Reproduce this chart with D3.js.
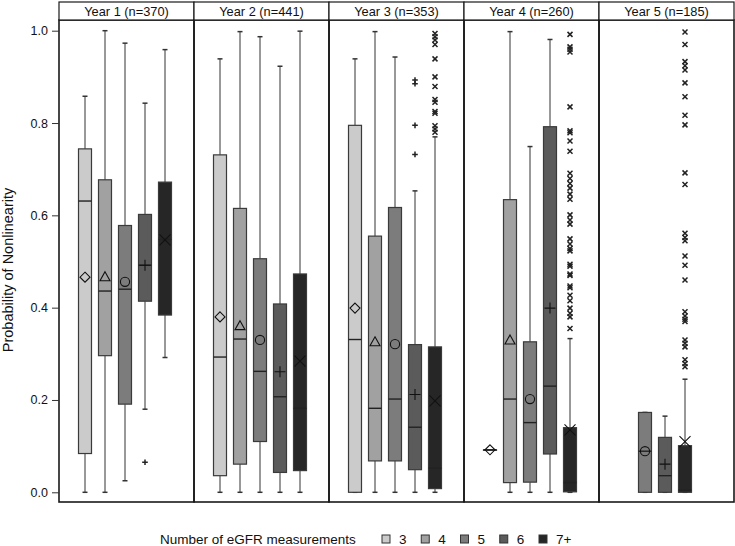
<!DOCTYPE html>
<html>
<head>
<meta charset="utf-8">
<script src="https://cdn.jsdelivr.net/npm/d3@7"></script>
<style>
  body { margin: 0; background: #fff; }
  text { font-family: "Liberation Sans", Arial, sans-serif; }
</style>
</head>
<body>
<svg id="chart" width="735" height="546"></svg>
<script>
// panels and groups
var years = ["Year 1 (n=370)", "Year 2 (n=441)", "Year 3 (n=353)", "Year 4 (n=260)", "Year 5 (n=185)"];
var groups = ["3", "4", "5", "6", "7+"];
var yTicks = [0, 0.2, 0.4, 0.6, 0.8, 1.0];

// group, low whisker, q1, median, q3, high whisker, mean
var year1 = [
	["3", 0.000, 0.084, 0.631, 0.744, 0.858, 0.466],
	["4", 0.000, 0.296, 0.436, 0.677, 1.000, 0.467],
	["5", 0.025, 0.191, 0.440, 0.578, 0.973, 0.456],
	["6", 0.180, 0.414, 0.492, 0.602, 0.843, 0.492],
	["7+", 0.292, 0.384, 0.548, 0.672, 0.959, 0.547]
];
var year2 = [
	["3", 0.000, 0.036, 0.293, 0.731, 0.939, 0.380],
	["4", 0.000, 0.061, 0.332, 0.615, 0.998, 0.361],
	["5", 0.000, 0.110, 0.262, 0.506, 0.987, 0.330],
	["6", 0.000, 0.043, 0.207, 0.408, 0.923, 0.261],
	["7+", 0.000, 0.047, 0.182, 0.473, 0.999, 0.284]
];
var year3 = [
	["3", 0.000, 0.000, 0.331, 0.795, 0.939, 0.399],
	["4", 0.000, 0.068, 0.182, 0.555, 0.998, 0.326],
	["5", 0.000, 0.068, 0.202, 0.617, 0.943, 0.321],
	["6", 0.000, 0.049, 0.141, 0.320, 0.653, 0.212],
	["7+", 0.000, 0.008, 0.052, 0.315, 0.770, 0.198]
];
var year4 = [
	["3", 0.092, 0.092, 0.092, 0.092, 0.092, 0.092],
	["4", 0.000, 0.021, 0.202, 0.634, 0.998, 0.330],
	["5", 0.000, 0.022, 0.151, 0.326, 0.749, 0.202],
	["6", 0.000, 0.083, 0.230, 0.792, 0.981, 0.399],
	["7+", 0.000, 0.001, 0.021, 0.140, 0.333, 0.135]
];
var year5 = [
	["5", 0.000, 0.000, 0.089, 0.173, 0.173, 0.089],
	["6", 0.000, 0.000, 0.036, 0.119, 0.165, 0.061],
	["7+", 0.000, 0.000, 0.005, 0.101, 0.245, 0.110]
];

// outliers: year index, group, values
var outliers = [
	[0, "6", [0.065]],
	[2, "6", [0.893, 0.885, 0.795, 0.732]],
	[2, "7+", [0.994, 0.987, 0.980, 0.970, 0.939, 0.900, 0.879, 0.851, 0.845, 0.825, 0.821, 0.794, 0.787, 0.780]],
	[3, "7+", [0.992, 0.965, 0.960, 0.954, 0.835, 0.783, 0.779, 0.761, 0.739, 0.691, 0.680, 0.669, 0.659, 0.646,
		0.635, 0.601, 0.590, 0.581, 0.549, 0.538, 0.528, 0.523, 0.494, 0.490, 0.473, 0.470, 0.447, 0.443,
		0.427, 0.415, 0.399, 0.388, 0.380, 0.355]],
	[4, "7+", [0.997, 0.970, 0.933, 0.924, 0.915, 0.887, 0.857, 0.817, 0.796, 0.692, 0.667, 0.561, 0.552, 0.545,
		0.512, 0.492, 0.460, 0.391, 0.382, 0.375, 0.370, 0.330, 0.323, 0.315, 0.287, 0.279, 0.272]]
];

var panels = [year1, year2, year3, year4, year5];

var fills = {"3": "#cbcbcb", "4": "#a1a1a1", "5": "#7c7c7c", "6": "#5b5b5b", "7+": "#262626"};
var meanShape = {"3": "diamond", "4": "triangle", "5": "circle", "6": "plus", "7+": "x"};

var svg = d3.select("#chart");
var plotLeft = 59, panelW = 135, plotTop = 20, plotBottom = 502, headH = 18;

var y = d3.scaleLinear().domain([0, 1]).range([492.3, 30.7]);

function drawMean(g, shape, cx, cy) {
	var s = g.append("g").attr("transform", "translate(" + cx + "," + cy + ")")
		.attr("fill", "none").attr("stroke", "#111").attr("stroke-width", 1.1);
	if (shape === "diamond") {
		s.append("path").attr("d", "M0,-5L5,0L0,5L-5,0Z");
	} else if (shape === "triangle") {
		s.append("path").attr("d", "M0,-5L5,4L-5,4Z");
	} else if (shape === "circle") {
		s.append("circle").attr("r", 4.6);
	} else if (shape === "plus") {
		s.append("path").attr("d", "M-5.5,0H5.5M0,-5.5V5.5");
	} else {
		s.append("path").attr("d", "M-5.5,-5.5L5.5,5.5M-5.5,5.5L5.5,-5.5");
	}
}

function drawOutlier(g, shape, cx, cy) {
	var p = shape === "plus" ? "M-2.8,0H2.8M0,-2.8V2.8" : "M-2.5,-2.5L2.5,2.5M-2.5,2.5L2.5,-2.5";
	g.append("path").attr("transform", "translate(" + cx + "," + cy + ")")
		.attr("d", p).attr("fill", "none").attr("stroke", "#222").attr("stroke-width", 1.5);
}

panels.forEach(function(rows, i) {
	var x0 = plotLeft + i * panelW;
	var g = svg.append("g").attr("transform", "translate(" + x0 + ",0)");
	var cats = rows.map(function(r) { return r[0]; });
	var mid = panelW / 2 - 1.5;
	var x = d3.scaleBand().domain(cats)
		.range([mid - cats.length * 10, mid + cats.length * 10]);
	var bw = 13;
	var col = "#333";

	rows.forEach(function(r) {
		var cx = x(r[0]) + x.bandwidth() / 2;
		var lo = r[1], q1 = r[2], med = r[3], q3 = r[4], hi = r[5], mean = r[6];
		// whiskers
		g.append("line").attr("x1", cx).attr("x2", cx).attr("y1", y(hi)).attr("y2", y(q3))
			.attr("stroke", col).attr("stroke-width", 1);
		g.append("line").attr("x1", cx).attr("x2", cx).attr("y1", y(q1)).attr("y2", y(lo))
			.attr("stroke", col).attr("stroke-width", 1);
		[lo, hi].forEach(function(v) {
			g.append("line").attr("x1", cx - 2.5).attr("x2", cx + 2.5).attr("y1", y(v)).attr("y2", y(v))
				.attr("stroke", col).attr("stroke-width", 1.5);
		});
		// box
		g.append("rect").attr("x", cx - bw / 2).attr("width", bw)
			.attr("y", y(q3)).attr("height", Math.max(0.5, y(q1) - y(q3)))
			.attr("fill", fills[r[0]]).attr("stroke", "#3a3a3a").attr("stroke-width", 1.2);
		// median
		g.append("line").attr("x1", cx - bw / 2).attr("x2", cx + bw / 2).attr("y1", y(med)).attr("y2", y(med))
			.attr("stroke", "#222").attr("stroke-width", 1.4);
		drawMean(g, meanShape[r[0]], cx, y(mean));
	});

	outliers.filter(function(o) { return o[0] === i; }).forEach(function(o) {
		var cx = x(o[1]) + x.bandwidth() / 2;
		o[2].forEach(function(v) { drawOutlier(g, meanShape[o[1]], cx, y(v)); });
	});

	// frame and header
	g.append("rect").attr("x", 0).attr("y", plotTop).attr("width", panelW).attr("height", plotBottom - plotTop)
		.attr("fill", "none").attr("stroke", "#1a1a1a").attr("stroke-width", 1.6);
	g.append("rect").attr("x", 0).attr("y", 2).attr("width", panelW).attr("height", headH)
		.attr("fill", "#fff").attr("stroke", "#1a1a1a").attr("stroke-width", 1.2);
	g.append("text").attr("x", panelW / 2).attr("y", 15.8).attr("text-anchor", "middle")
		.attr("font-size", 12.8).attr("fill", "#111").text(years[i]);
});

// y axis
var axis = svg.append("g").attr("transform", "translate(" + plotLeft + ",0)")
	.call(d3.axisLeft(y).tickValues(yTicks).tickFormat(d3.format(".1f")).tickSize(7).tickPadding(4));
axis.select(".domain").remove();
axis.selectAll("line").attr("stroke", "#333");
axis.selectAll("text").attr("font-size", 12.5).attr("fill", "#111")
	.style("font-family", "'Liberation Sans', Arial, sans-serif");

svg.append("text").attr("transform", "translate(13,270) rotate(-90)").attr("text-anchor", "middle")
	.attr("font-size", 14.5).attr("fill", "#111").text("Probability of Nonlinearity");

// legend
var leg = svg.append("g").attr("transform", "translate(0,539)");
leg.append("text").attr("x", 160).attr("y", 5).attr("font-size", 13.5).attr("fill", "#111")
	.text("Number of eGFR measurements");
var lx = d3.scalePoint().domain(groups).range([382, 539]);
groups.forEach(function(k) {
	leg.append("rect").attr("x", lx(k)).attr("y", -4).attr("width", 8).attr("height", 8)
		.attr("fill", fills[k]).attr("stroke", "#333").attr("stroke-width", 1);
	leg.append("text").attr("x", lx(k) + 17).attr("y", 5).attr("font-size", 13.5).attr("fill", "#111").text(k);
});
</script>
</body>
</html>
